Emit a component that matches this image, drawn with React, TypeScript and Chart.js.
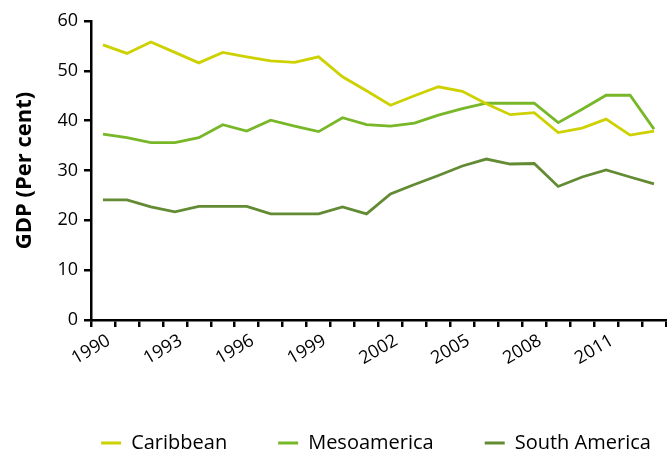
import React, { useEffect, useRef } from "react";
import { Chart, registerables } from "chart.js";

Chart.register(...registerables);

const years = [
  "1990", "1991", "1992", "1993", "1994", "1995", "1996", "1997", "1998", "1999",
  "2000", "2001", "2002", "2003", "2004", "2005", "2006", "2007", "2008", "2009",
  "2010", "2011", "2012", "2013",
];
const caribbean = [
  55.2, 53.5, 55.8, 53.7, 51.6, 53.7, 52.8, 52.0, 51.7, 52.8,
  48.8, 46.0, 43.1, 45.0, 46.8, 45.9, 43.4, 41.2, 41.6, 37.6,
  38.5, 40.3, 37.1, 37.9,
];
const mesoamerica = [
  37.3, 36.6, 35.6, 35.6, 36.6, 39.2, 37.9, 40.1, 38.9, 37.8,
  40.6, 39.2, 38.9, 39.5, 41.1, 42.4, 43.5, 43.5, 43.5, 39.6,
  42.3, 45.1, 45.1, 38.3,
];
const southAmerica = [
  24.1, 24.1, 22.7, 21.7, 22.8, 22.8, 22.8, 21.3, 21.3, 21.3,
  22.7, 21.3, 25.3, 27.2, 29.0, 30.9, 32.3, 31.3, 31.4, 26.8,
  28.7, 30.1, 28.7, 27.3,
];
const yTicks = [0, 10, 20, 30, 40, 50, 60];

const FONT = "'Open Sans', 'Noto Sans', sans-serif";

const legendShift = {
  id: "legendShift",
  afterLayout(chart: any) {
    const lg = chart.legend;
    if (lg) {
      lg.left = lg.left + 43;
      lg.right = lg.right + 43;
    }
  },
};

export default function App() {
  const ref = useRef<HTMLCanvasElement | null>(null);
  useEffect(() => {
    if (!ref.current) return;
    const mk = (label: string, data: number[], color: string) => ({
      label,
      data,
      borderColor: color,
      backgroundColor: color,
      borderWidth: 2.8,
      pointRadius: 0,
      tension: 0,
      fill: false,
    });
    const chart = new Chart(ref.current, {
      type: "line",
      data: {
        labels: years,
        datasets: [
          mk("Caribbean", caribbean, "#cdd100"),
          mk("Mesoamerica", mesoamerica, "#78b728"),
          mk("South America", southAmerica, "#638b33"),
        ],
      },
      plugins: [legendShift],
      options: {
        animation: false,
        responsive: true,
        maintainAspectRatio: false,
        layout: { padding: { top: 21, right: 1, left: 0, bottom: 0 } },
        plugins: {
          tooltip: { enabled: false },
          legend: {
            position: "bottom",
            maxHeight: 69,
            labels: {
              color: "#000",
              font: { family: FONT, size: 20 },
              boxWidth: 20,
              boxHeight: 3,
              padding: 51,
              generateLabels: (c: any) =>
                Chart.defaults.plugins.legend.labels
                  .generateLabels(c)
                  .map((it: any) => ({ ...it, lineWidth: 0 })),
            },
          },
        },
        scales: {
          x: {
            type: "category",
            offset: true,
            afterFit: (s: any) => {
              s.height = 62;
              s.paddingRight = 0;
            },
            grid: {
              offset: true,
              drawOnChartArea: false,
              drawTicks: true,
              tickLength: 7,
              color: "#000",
              lineWidth: 2.5,
            },
            border: { color: "#000", width: 2.5 },
            ticks: {
              autoSkip: false,
              maxRotation: 30,
              minRotation: 30,
              padding: 3,
              labelOffset: 6,
              color: "#000",
              font: { family: FONT, size: 18 },
              callback: (_v: any, i: number) => (i % 3 === 0 ? years[i] : ""),
            },
          },
          y: {
            min: 0,
            max: 60,
            afterBuildTicks: (s: any) => {
              s.ticks = yTicks.map((v) => ({ value: v }));
            },
            grid: {
              drawOnChartArea: false,
              drawTicks: true,
              tickLength: 7,
              color: "#000",
              lineWidth: 2.5,
            },
            border: { color: "#000", width: 2.5 },
            ticks: {
              color: "#000",
              padding: 6,
              font: { family: FONT, size: 18 },
            },
            title: {
              display: true,
              text: "GDP (Per cent)",
              color: "#000",
              font: { family: FONT, size: 22, weight: "bold" },
              padding: { top: 12, bottom: 13 },
            },
          },
        },
      },
    });
    return () => chart.destroy();
  }, []);
  return (
    <div style={{ position: "fixed", left: 0, top: 0, width: 667, height: 451 }}>
      <canvas ref={ref} />
    </div>
  );
}
